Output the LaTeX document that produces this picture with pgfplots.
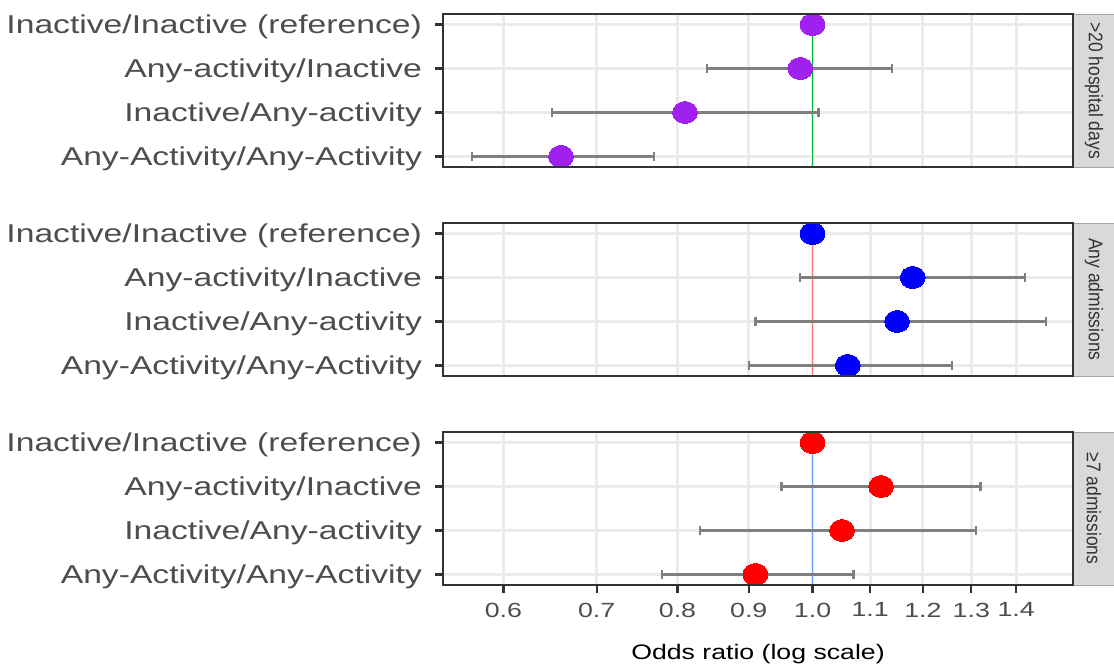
\documentclass[border=0pt]{standalone}
\usepackage{graphicx}
\usepackage{fontspec}
\setmainfont{Liberation Sans}
\usepackage{pgfplots}
\pgfplotsset{compat=1.18}

\definecolor{gridgray}{HTML}{EBEBEB}
\definecolor{framegray}{HTML}{333333}
\definecolor{textgray}{HTML}{4D4D4D}
\definecolor{stripgray}{HTML}{D9D9D9}
\definecolor{stripedge}{HTML}{A6A6A6}
\definecolor{cigray}{HTML}{7F7F7F}
\definecolor{refgreen}{HTML}{00BA38}
\definecolor{refred}{HTML}{F8766D}
\definecolor{refblue}{HTML}{619CFF}
\definecolor{ptpurple}{HTML}{A020F0}
\definecolor{ptblue}{HTML}{0000FF}
\definecolor{ptred}{HTML}{FF0000}

% horizontally widened text
\newcommand\sx[1]{\scalebox{1.305}[1]{#1}}

\pgfplotsset{
  every axis/.append style={
    scale only axis, width=630bp, height=153bp,
    anchor=south west,
    xmin=0.543, xmax=1.538,
    ymin=0.76, ymax=4.24, y dir=reverse,
    xtick={0.6,0.7,0.8,0.9,1.0,1.1,1.2,1.3,1.4}, minor xtick={},
    ytick={1,2,3,4},
    yticklabels={\sx{Inactive/Inactive (reference)},\sx{Any-activity/Inactive},\sx{Inactive/Any-activity},\sx{Any-Activity/Any-Activity}},
    grid=major,
    major grid style={line width=3bp, color=gridgray},
    axis line style={line width=1.8bp, color=framegray},
    tick style={line width=2.2bp, color=framegray},
    tick align=outside, major tick length=8bp,
    xtick pos=bottom, ytick pos=left,
    yticklabel style={font=\fontsize{25.8bp}{30bp}\selectfont, text=textgray, inner sep=0pt, xshift=-13bp, yshift=-2bp},
    xticklabel style={font=\fontsize{20.5bp}{24bp}\selectfont, text=textgray, inner sep=0pt, anchor=north, yshift=-9.5bp},
  },
}
\tikzset{
  refline/.style={line width=1.5bp},
  ci/.style={cigray, line width=2.5bp, mark=|, mark size=4.5bp, mark options={line width=2.2bp, solid}},
}

\begin{document}
\begin{tikzpicture}[x=1bp,y=1bp]
\useasboundingbox (0,0) rectangle (1114,666);

% >20 hospital days
\begin{semilogxaxis}[at={(443bp,499bp)}, xticklabels={}, xtick style={draw=none}]
\addplot[refline, refgreen] coordinates {(1,0.76) (1,4.24)};
\addplot[ci] coordinates {(0.84,2) (1.14,2)};
\addplot[ci] coordinates {(0.65,3) (1.01,3)};
\addplot[ci] coordinates {(0.57,4) (0.77,4)};
\addplot[only marks, mark=*, mark size=11bp, mark options={fill=ptpurple, draw=ptpurple, line width=0pt, xscale=1.13}]
  coordinates {(1.00,1) (0.98,2) (0.81,3) (0.66,4)};
\end{semilogxaxis}

% Any admissions
\begin{semilogxaxis}[at={(443bp,290bp)}, xticklabels={}, xtick style={draw=none}]
\addplot[refline, refred] coordinates {(1,0.76) (1,4.24)};
\addplot[ci] coordinates {(0.98,2) (1.42,2)};
\addplot[ci] coordinates {(0.91,3) (1.47,3)};
\addplot[ci] coordinates {(0.90,4) (1.26,4)};
\addplot[only marks, mark=*, mark size=11bp, mark options={fill=ptblue, draw=ptblue, line width=0pt, xscale=1.13}]
  coordinates {(1.00,1) (1.18,2) (1.15,3) (1.06,4)};
\end{semilogxaxis}

% >=7 admissions
\begin{semilogxaxis}[at={(443bp,81bp)},
  xticklabels={\sx{0.6},\sx{0.7},\sx{0.8},\sx{0.9},\sx{1.0},\sx{1.1},\sx{1.2},\sx{1.3},\sx{1.4}}]
\addplot[refline, refblue] coordinates {(1,0.76) (1,4.24)};
\addplot[ci] coordinates {(0.95,2) (1.32,2)};
\addplot[ci] coordinates {(0.83,3) (1.31,3)};
\addplot[ci] coordinates {(0.78,4) (1.07,4)};
\addplot[only marks, mark=*, mark size=11bp, mark options={fill=ptred, draw=ptred, line width=0pt, xscale=1.13}]
  coordinates {(1.00,1) (1.12,2) (1.05,3) (0.91,4)};
\end{semilogxaxis}

% facet strips
\begin{scope}[font=\fontsize{17.5bp}{20bp}\selectfont, text=framegray]
\draw[fill=stripgray, draw=stripedge, line width=0.8bp] (1073,499) rectangle (1116,652);
\draw[fill=stripgray, draw=stripedge, line width=0.8bp] (1073,290) rectangle (1116,443);
\draw[fill=stripgray, draw=stripedge, line width=0.8bp] (1073,81) rectangle (1116,234);
\node[rotate=-90, inner sep=0pt] at (1094,575.5) {\scalebox{1}[1.13]{>20 hospital days}};
\node[rotate=-90, inner sep=0pt] at (1094,366.5) {\scalebox{1}[1.13]{Any admissions}};
\node[rotate=-90, inner sep=0pt] at (1094,157.5) {\scalebox{1}[1.13]{≥7 admissions}};
\end{scope}

% panel frames drawn again over the strip edges
\foreach \yb in {499,290,81}
  \draw[line width=1.8bp, color=framegray] (443,\yb) rectangle (1073,\yb+153);

\node[font=\fontsize{21bp}{24bp}\selectfont, text=black] at (758,12) {\scalebox{1.27}[1]{Odds ratio (log scale)}};
\end{tikzpicture}
\end{document}
